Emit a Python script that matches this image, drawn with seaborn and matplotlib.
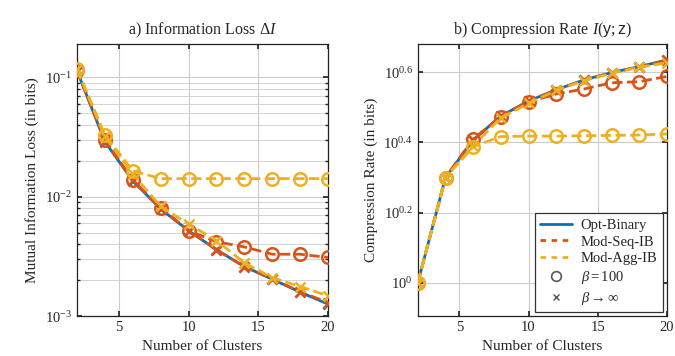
import numpy as np
import pandas as pd
import matplotlib
matplotlib.use("Agg")
import matplotlib.pyplot as plt
import matplotlib.ticker as mticker
from matplotlib.lines import Line2D
import seaborn as sns

clusters = [2, 4, 6, 8, 10, 12, 14, 16, 18, 20]

# a) Information loss (bits)
loss_opt = [0.114, 0.0290, 0.0136, 0.0079, 0.0052, 0.0036, 0.0026, 0.00204, 0.00159, 0.00126]
loss_seq_100 = [0.115, 0.0300, 0.0138, 0.0081, 0.0052, 0.0042, 0.0038, 0.0033, 0.0033, 0.0031]
loss_seq_inf = [0.115, 0.0295, 0.0137, 0.0080, 0.0052, 0.0036, 0.0026, 0.00205, 0.00160, 0.00130]
loss_agg_100 = [0.118, 0.0330, 0.0165, 0.0142, 0.0142, 0.0142, 0.0142, 0.0142, 0.0142, 0.0142]
loss_agg_inf = [0.118, 0.0320, 0.0155, 0.0083, 0.0059, 0.0043, 0.0028, 0.00210, 0.00177, 0.00148]

# b) Compression rate (bits)
rate_opt = [1.0, 1.995, 2.553, 2.985, 3.296, 3.548, 3.784, 3.972, 4.130, 4.315]
rate_seq_100 = [1.0, 1.995, 2.570, 2.972, 3.273, 3.451, 3.565, 3.715, 3.741, 3.873]
rate_seq_inf = [1.0, 1.995, 2.553, 2.980, 3.290, 3.540, 3.780, 3.965, 4.125, 4.300]
rate_agg_100 = [1.0, 1.995, 2.443, 2.610, 2.618, 2.618, 2.624, 2.630, 2.636, 2.655]
rate_agg_inf = [1.0, 1.995, 2.455, 2.951, 3.243, 3.532, 3.767, 3.954, 4.111, 4.236]

c_blue = "#0072BD"
c_orange = "#D95319"
c_yellow = "#EDB120"

sns.set_theme(style="ticks")
plt.rcParams["font.family"] = ["Liberation Serif", "DejaVu Serif"]
plt.rcParams["mathtext.fontset"] = "custom"
plt.rcParams["mathtext.rm"] = "Liberation Serif"
plt.rcParams["mathtext.it"] = "Liberation Serif:italic"
plt.rcParams["mathtext.bf"] = "Liberation Serif:bold"
plt.rcParams["mathtext.sf"] = "Liberation Sans"
plt.rcParams["mathtext.fallback"] = "stix"
plt.rcParams["xtick.direction"] = "in"
plt.rcParams["ytick.direction"] = "in"

fig = plt.figure(figsize=(6.75, 3.56), dpi=100)
ax1 = fig.add_axes([0.114, 0.112, 0.372, 0.764])
ax2 = fig.add_axes([0.619, 0.112, 0.369, 0.764])

series_specs = [
    ("opt", c_blue, "-", "x", 2.0, 7),
    ("seq_inf", c_orange, "--", "x", 2.0, 7),
    ("seq_100", c_orange, "--", "o", 2.0, 9),
    ("agg_inf", c_yellow, "--", "x", 2.0, 7),
    ("agg_100", c_yellow, "--", "o", 2.0, 9),
]

loss_data = {"opt": loss_opt, "seq_inf": loss_seq_inf, "seq_100": loss_seq_100,
             "agg_inf": loss_agg_inf, "agg_100": loss_agg_100}
rate_data = {"opt": rate_opt, "seq_inf": rate_seq_inf, "seq_100": rate_seq_100,
             "agg_inf": rate_agg_inf, "agg_100": rate_agg_100}

def draw(ax, data):
    for i, (key, col, ls, mk, lw, ms) in enumerate(series_specs):
        df = pd.DataFrame({"k": clusters, "v": data[key]})
        sns.lineplot(data=df, x="k", y="v", ax=ax, color=col, linestyle=ls,
                     linewidth=lw, marker=mk, markersize=ms,
                     markerfacecolor="none", markeredgecolor=col,
                     markeredgewidth=1.8, dashes=False if ls == "-" else (2, 2),
                     zorder=3 + i, legend=False)

draw(ax1, loss_data)
draw(ax2, rate_data)

for ax in (ax1, ax2):
    ax.set_xlim(2, 20)
    ax.set_xticks([5, 10, 15, 20])
    ax.set_xlabel("Number of Clusters", fontsize=11)
    ax.tick_params(axis="both", which="both", top=True, right=True, labelsize=10.5)
    ax.tick_params(which="major", length=3.5)
    ax.tick_params(which="minor", length=2)
    for s in ax.spines.values():
        s.set_color("#222222")
        s.set_linewidth(0.9)

ax1.set_yscale("log")
ax1.set_ylim(1e-3, 0.19)
ax1.yaxis.set_major_locator(mticker.FixedLocator([1e-3, 1e-2, 1e-1]))
ax1.yaxis.set_major_formatter(mticker.FixedFormatter([r"$10^{-3}$", r"$10^{-2}$", r"$10^{-1}$"]))
ax1.yaxis.set_minor_locator(mticker.LogLocator(base=10, subs=np.arange(2, 10)))
ax1.yaxis.set_minor_formatter(mticker.NullFormatter())
ax1.grid(True, which="major", color="#cccccc", linewidth=0.8)
ax1.grid(True, which="minor", axis="y", color="#cccccc", linewidth=0.6)
ax1.set_ylabel("Mutual Information Loss (in bits)", fontsize=11)
ax1.set_title(r"a) Information Loss $\Delta I$", fontsize=11.5, pad=7)

ax2.set_yscale("log")
ax2.set_ylim(10 ** -0.095, 10 ** 0.68)
ax2.yaxis.set_major_locator(mticker.FixedLocator([1.0, 10 ** 0.2, 10 ** 0.4, 10 ** 0.6]))
ax2.yaxis.set_major_formatter(mticker.FixedFormatter([r"$10^{0}$", r"$10^{0.2}$", r"$10^{0.4}$", r"$10^{0.6}$"]))
ax2.yaxis.set_minor_locator(mticker.NullLocator())
ax2.grid(True, which="major", color="#cccccc", linewidth=0.8)
ax2.set_ylabel("Compression Rate (in bits)", fontsize=11)
ax2.set_title(r"b) Compression Rate $I(\mathsf{y};\mathsf{z})$", fontsize=11.5, pad=7)

handles = [
    Line2D([], [], color=c_blue, linestyle="-", linewidth=2),
    Line2D([], [], color=c_orange, linestyle=(0, (2, 2)), linewidth=2),
    Line2D([], [], color=c_yellow, linestyle=(0, (2, 2)), linewidth=2),
    Line2D([], [], color="#555555", linestyle="none", marker="o", markerfacecolor="none", markersize=7, markeredgewidth=1.2),
    Line2D([], [], color="#555555", linestyle="none", marker="x", markersize=5, markeredgewidth=1.0),
]
labels = ["Opt-Binary", "Mod-Seq-IB", "Mod-Agg-IB", r"$\beta = 100$", r"$\beta \rightarrow \infty$"]
leg = ax2.legend(handles, labels, loc="lower right", fontsize=10.5, frameon=True,
                 fancybox=False, framealpha=1, edgecolor="#333333",
                 handlelength=2.2, borderpad=0.35, labelspacing=0.25,
                 handletextpad=0.6, borderaxespad=0.3)
leg.get_frame().set_linewidth(0.9)

fig.savefig("out.png", dpi=100)
